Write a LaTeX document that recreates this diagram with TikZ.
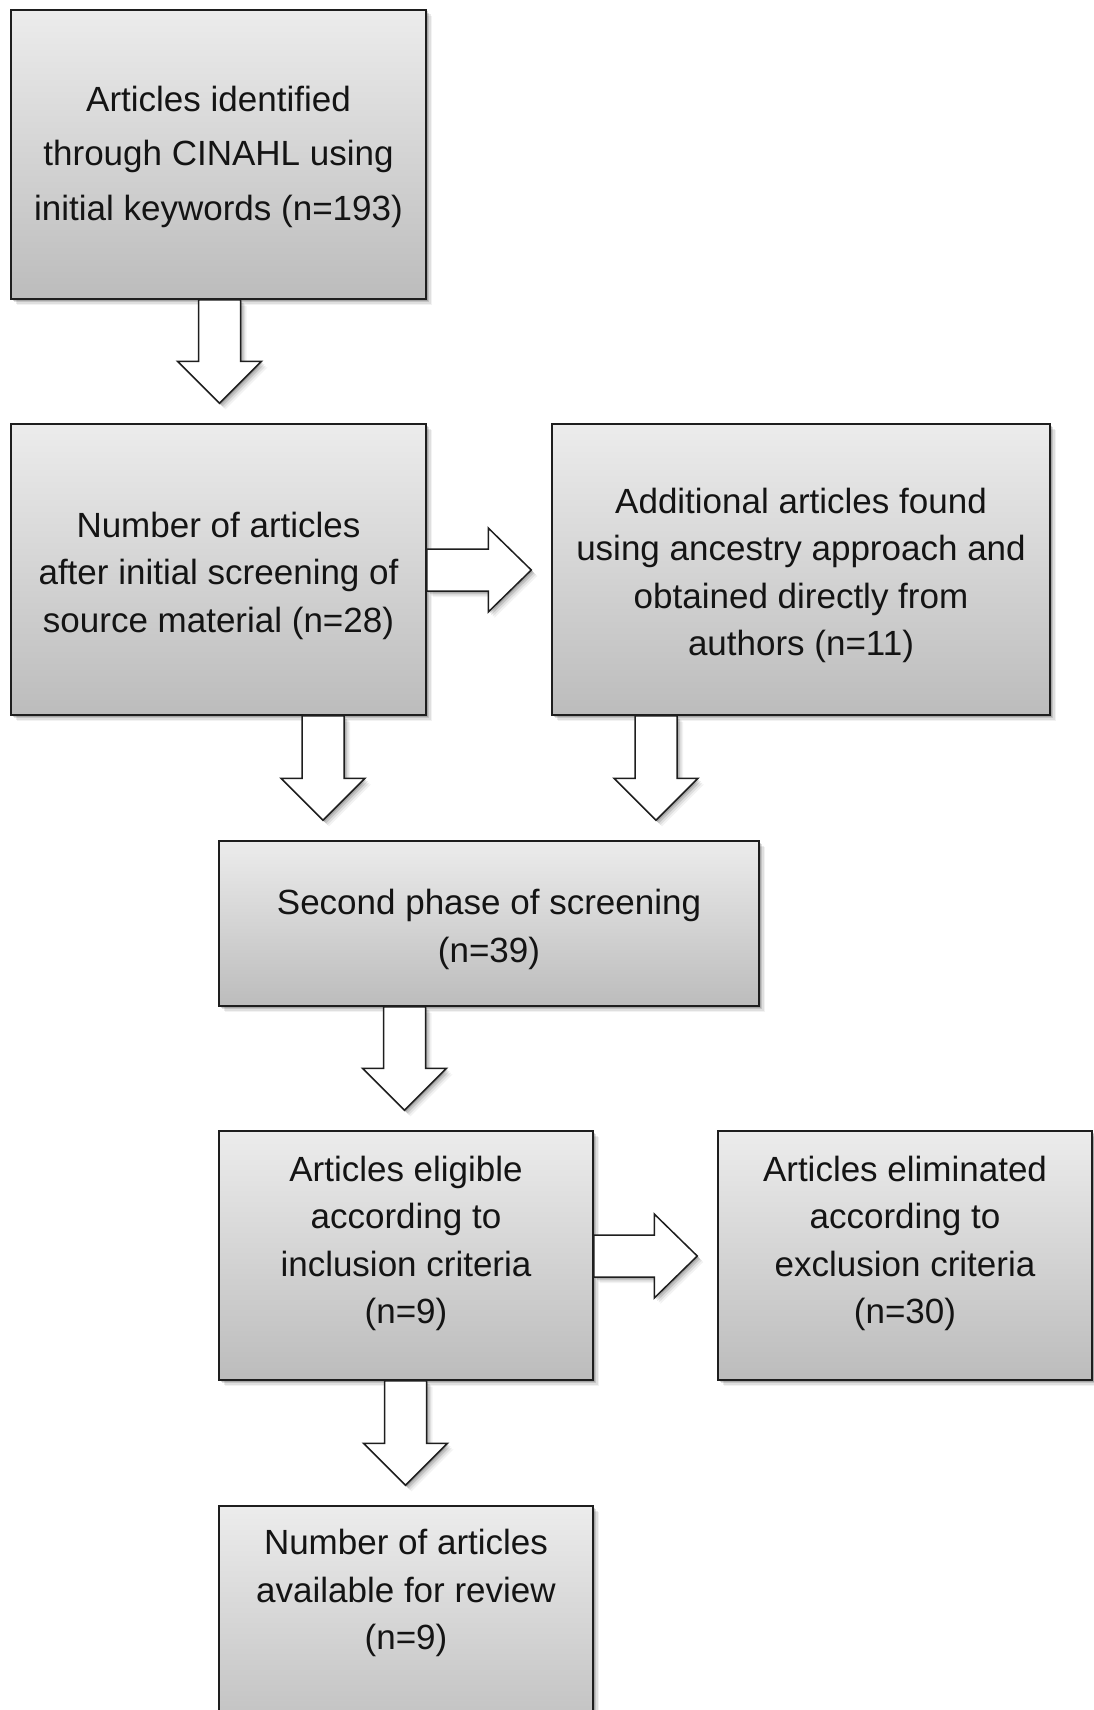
\documentclass[tikz,border=0pt]{standalone}
\usepackage{fontspec}
\setmainfont{Liberation Sans}
\usetikzlibrary{calc,shadows}
\definecolor{boxtop}{RGB}{236,236,236}
\definecolor{boxbot}{RGB}{188,188,188}
\definecolor{edgec}{RGB}{30,30,30}
\tikzset{
  softshadow/.style={
    general shadow={shadow xshift=6pt, shadow yshift=-6pt, fill=black, opacity=0.05},
    general shadow={shadow xshift=4.5pt, shadow yshift=-4.5pt, fill=black, opacity=0.08},
    general shadow={shadow xshift=3pt, shadow yshift=-3pt, fill=black, opacity=0.12},
    general shadow={shadow xshift=1.5pt, shadow yshift=-1.5pt, fill=black, opacity=0.15}},
  box/.style={rectangle, draw=edgec, line width=1.5pt, top color=boxtop, bottom color=boxbot,
    softshadow, inner sep=0pt},
  txt/.style={align=center, inner sep=0pt, text=black!92, font=\fontsize{35}{47.5}\selectfont},
  barrow/.style={draw=edgec, fill=white, line width=1.5pt, line join=miter, softshadow},
}
% vertical block arrow: from node, to node, x centre (px)
\newcommand\myvarrow[3]{%
  \draw[barrow] let \p1=(#1.south), \p2=(#2.north) in
    (#3pt-21pt,\y1) -- (#3pt-21pt,\y2+62pt) -- (#3pt-42pt,\y2+62pt) --
    (#3pt,\y2+20pt) -- (#3pt+42pt,\y2+62pt) -- (#3pt+21pt,\y2+62pt) --
    (#3pt+21pt,\y1) -- cycle;}
% horizontal block arrow: from node, to node, y centre (px, downward)
\newcommand\myharrow[3]{%
  \draw[barrow] let \p1=(#1.east), \p2=(#2.west) in
    (\x1,-#3pt+21pt) -- (\x2-63pt,-#3pt+21pt) -- (\x2-63pt,-#3pt+42pt) --
    (\x2-20pt,-#3pt) -- (\x2-63pt,-#3pt-42pt) -- (\x2-63pt,-#3pt-21pt) --
    (\x1,-#3pt-21pt) -- cycle;}
\begin{document}
\begin{tikzpicture}[x=1pt, y=-1pt]
\useasboundingbox (0,0) rectangle (1094,1710);
\clip (0,0) rectangle (1094,1710);
\fill[white] (0,0) rectangle (1094,1710);

\node[box, minimum width=415pt, minimum height=289pt] (b1) at (218.5,154.5) {};
\node[box, minimum width=415pt, minimum height=291pt] (b2) at (218.5,569.5) {};
\node[box, minimum width=498pt, minimum height=291pt] (b3) at (801,569.5) {};
\node[box, minimum width=540pt, minimum height=165pt] (b4) at (489,923.5) {};
\node[box, minimum width=374pt, minimum height=249pt] (b5) at (406,1255.5) {};
\node[box, minimum width=374pt, minimum height=249pt] (b6) at (905,1255.5) {};
\node[box, minimum width=374pt, minimum height=249pt] (b7) at (406,1630.5) {};

\node[txt, font=\fontsize{35}{54.5}\selectfont] (t1) at ($(b1.center)+(0,2)$)
  {Articles identified\\through CINAHL using\\initial keywords (n=193)};
\node[txt] (t2) at ($(b2.center)+(0,6)$)
  {Number of articles\\after initial screening of\\source material (n=28)};
\node[txt] (t3) at ($(b3.center)+(0,6)$)
  {Additional articles found\\using ancestry approach and\\obtained directly from\\authors (n=11)};
\node[txt] (t4) at ($(b4.center)+(0,6)$)
  {Second phase of screening\\(n=39)};
\node[txt] (t5) at ($(b5.north)+(0,113)$) {Articles eligible\\according to\\inclusion criteria\\(n=9)};
\node[txt] (t6) at ($(b6.north)+(0,113)$) {Articles eliminated\\according to\\exclusion criteria\\(n=30)};
\node[txt] (t7) at ($(b7.north)+(0,88)$) {Number of articles\\available for review\\(n=9)};

\myvarrow{b1}{b2}{219.5}
\myharrow{b2}{b3}{570}
\myvarrow{b2}{b4}{323}
\myvarrow{b3}{b4}{656}
\myvarrow{b4}{b5}{404.5}
\myharrow{b5}{b6}{1256}
\myvarrow{b5}{b7}{405.5}
\end{tikzpicture}
\end{document}
